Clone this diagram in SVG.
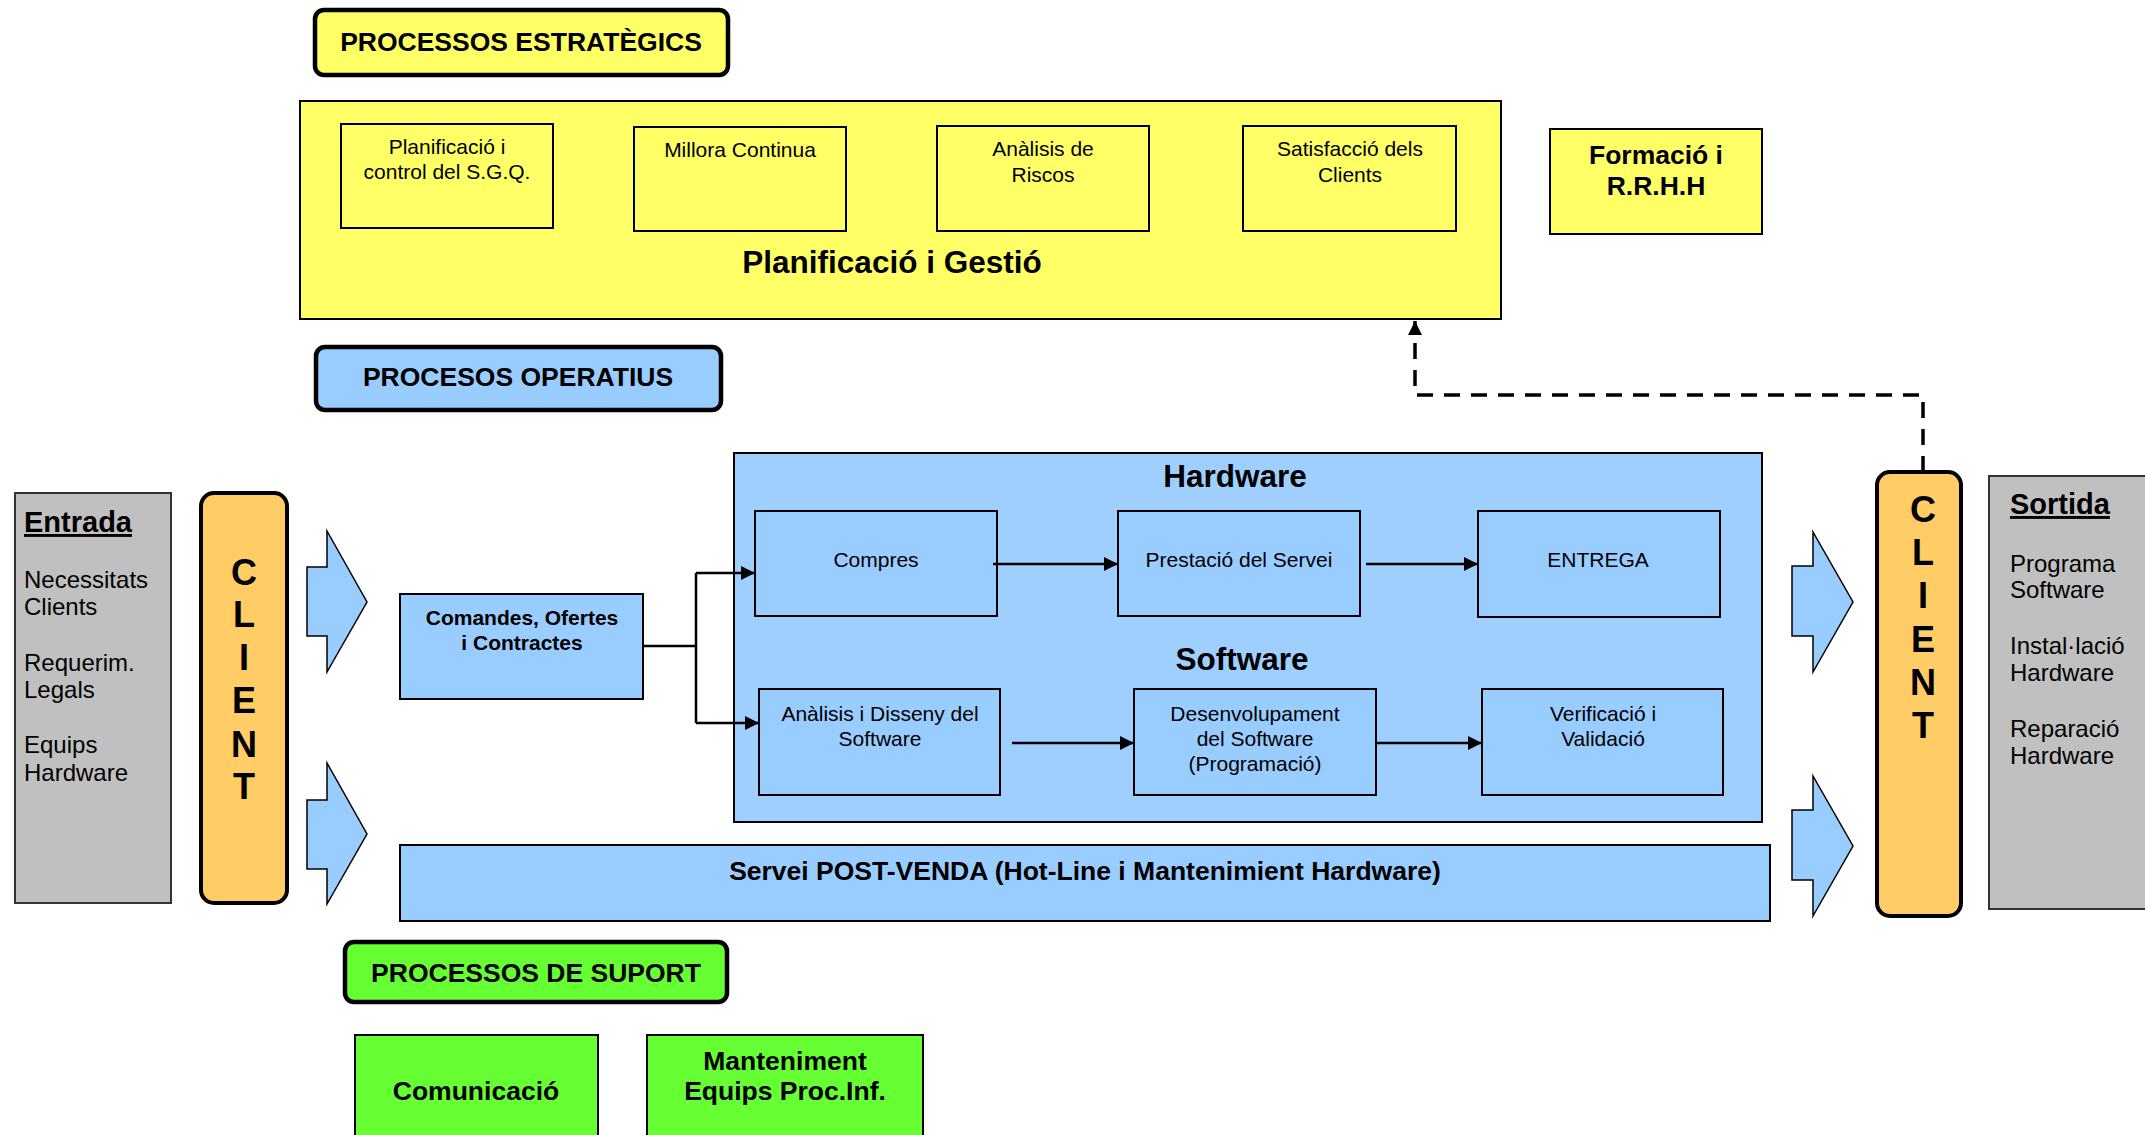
<svg xmlns="http://www.w3.org/2000/svg" width="2145" height="1135" viewBox="0 0 2145 1135">
<style>
text{font-family:"Liberation Sans",Arial,sans-serif;fill:#000}
.hdr{font-weight:bold;font-size:26.5px;text-anchor:middle}
.b{font-weight:bold;text-anchor:middle}
.t{font-size:21px;text-anchor:middle}
.side{font-size:24px}
.ttl{font-weight:bold;font-size:29px;text-decoration:underline}
.cl{font-weight:bold;font-size:36px;text-anchor:middle}
.yel{fill:#FFFF66;stroke:#000;stroke-width:2}
.blu{fill:#99CCFF;stroke:#000;stroke-width:2}
.grn{fill:#66FF33;stroke:#000;stroke-width:2}
.gry{fill:#C0C0C0;stroke:#333;stroke-width:2}
.org{fill:#FFCC66;stroke:#000;stroke-width:4}
.thick{stroke-width:4.5}
.blk{fill:#99CCFF;stroke:#000;stroke-width:1.5}
.ln{fill:none;stroke:#000;stroke-width:2.5}
.dash{fill:none;stroke:#000;stroke-width:3.5;stroke-dasharray:16 11}
</style>
<defs>
<marker id="ah" viewBox="0 0 10 10" refX="10" refY="5" markerWidth="14" markerHeight="15" markerUnits="userSpaceOnUse" orient="auto">
<path d="M0,0 L10,5 L0,10 z" fill="#000"/>
</marker>
<marker id="ahd" viewBox="0 0 10 10" refX="10" refY="5" markerWidth="14" markerHeight="14" markerUnits="userSpaceOnUse" orient="auto">
<path d="M0,0 L10,5 L0,10 z" fill="#000"/>
</marker>
</defs>

<g id="hdr-estrategics">
<rect class="yel thick" x="315" y="10" width="413" height="65" rx="9"/>
<text class="hdr" x="521" y="51">PROCESSOS ESTRATÈGICS</text>
</g>

<g id="planificacio-gestio">
<rect class="yel" x="300" y="101" width="1201" height="218"/>
<text class="b" x="892" y="273" font-size="31.5">Planificació i Gestió</text>
</g>
<g id="planificacio-control">
<rect class="yel" x="341" y="124" width="212" height="104"/>
<text class="t" x="447" y="154">Planificació i</text>
<text class="t" x="447" y="179">control del S.G.Q.</text>
</g>
<g id="millora">
<rect class="yel" x="634" y="127" width="212" height="104"/>
<text class="t" x="740" y="157">Millora Continua</text>
</g>
<g id="riscos">
<rect class="yel" x="937" y="126" width="212" height="105"/>
<text class="t" x="1043" y="156">Anàlisis de</text>
<text class="t" x="1043" y="182">Riscos</text>
</g>
<g id="satisfaccio">
<rect class="yel" x="1243" y="126" width="213" height="105"/>
<text class="t" x="1350" y="156">Satisfacció dels</text>
<text class="t" x="1350" y="182">Clients</text>
</g>
<g id="formacio">
<rect class="yel" x="1550" y="129" width="212" height="105"/>
<text class="b" x="1656" y="164" font-size="26.5">Formació i</text>
<text class="b" x="1656" y="195" font-size="26.5">R.R.H.H</text>
</g>

<g id="hdr-operatius">
<rect class="blu thick" x="316" y="347" width="405" height="63" rx="9"/>
<text class="hdr" x="518" y="386">PROCESOS OPERATIUS</text>
</g>

<g id="entrada">
<rect class="gry" x="15" y="493" width="156" height="410"/>
<text class="ttl" x="24" y="532">Entrada</text>
<text class="side" x="24" y="588">Necessitats</text>
<text class="side" x="24" y="615">Clients</text>
<text class="side" x="24" y="671">Requerim.</text>
<text class="side" x="24" y="698">Legals</text>
<text class="side" x="24" y="753">Equips</text>
<text class="side" x="24" y="781">Hardware</text>
</g>

<g id="client-left">
<rect class="org" x="201" y="493" width="86" height="410" rx="13"/>
<text class="cl" x="244" y="585">C</text>
<text class="cl" x="244" y="627">L</text>
<text class="cl" x="244" y="670">I</text>
<text class="cl" x="244" y="713">E</text>
<text class="cl" x="244" y="757">N</text>
<text class="cl" x="244" y="799">T</text>
</g>

<g id="arrow-in-1"><polygon class="blk" points="307,567 327,567 327,531 367,602 327,672 327,636 307,636"/></g>
<g id="arrow-in-2"><polygon class="blk" points="307,800 327,800 327,763 367,834 327,904 327,869 307,869"/></g>

<g id="comandes">
<rect class="blu" x="400" y="594" width="243" height="105"/>
<text class="b" x="522" y="625" font-size="21">Comandes, Ofertes</text>
<text class="b" x="522" y="650" font-size="21">i Contractes</text>
</g>

<g id="operatius-container">
<rect class="blu" x="734" y="453" width="1028" height="369" style="fill:#9FCFFF"/>
<text class="b" x="1235" y="487" font-size="31.5">Hardware</text>
<text class="b" x="1242" y="670" font-size="31.5">Software</text>
</g>
<g id="compres">
<rect class="blu" x="755" y="511" width="242" height="105"/>
<text class="t" x="876" y="567">Compres</text>
</g>
<g id="prestacio">
<rect class="blu" x="1118" y="511" width="242" height="105"/>
<text class="t" x="1239" y="567">Prestació del Servei</text>
</g>
<g id="entrega">
<rect class="blu" x="1478" y="511" width="242" height="106"/>
<text class="t" x="1598" y="567">ENTREGA</text>
</g>
<g id="analisis">
<rect class="blu" x="759" y="689" width="241" height="106"/>
<text class="t" x="880" y="721">Anàlisis i Disseny del</text>
<text class="t" x="880" y="746">Software</text>
</g>
<g id="desenvolupament">
<rect class="blu" x="1134" y="689" width="242" height="106"/>
<text class="t" x="1255" y="721">Desenvolupament</text>
<text class="t" x="1255" y="746">del Software</text>
<text class="t" x="1255" y="771">(Programació)</text>
</g>
<g id="verificacio">
<rect class="blu" x="1482" y="689" width="241" height="106"/>
<text class="t" x="1603" y="721">Verificació i</text>
<text class="t" x="1603" y="746">Validació</text>
</g>

<g id="postvenda">
<rect class="blu" x="400" y="845" width="1370" height="76"/>
<text class="b" x="1085" y="880" font-size="26.5">Servei POST-VENDA (Hot-Line i Mantenimient Hardware)</text>
</g>

<g id="arrow-out-1"><polygon class="blk" points="1792,566 1813,566 1813,532 1853,602 1813,672 1813,636 1792,636"/></g>
<g id="arrow-out-2"><polygon class="blk" points="1792,810 1813,810 1813,776 1853,846 1813,916 1813,880 1792,880"/></g>

<g id="client-right">
<rect class="org" x="1877" y="472" width="84" height="444" rx="13"/>
<text class="cl" x="1923" y="522">C</text>
<text class="cl" x="1923" y="565">L</text>
<text class="cl" x="1923" y="608">I</text>
<text class="cl" x="1923" y="652">E</text>
<text class="cl" x="1923" y="695">N</text>
<text class="cl" x="1923" y="738">T</text>
</g>

<g id="sortida">
<rect class="gry" x="1989" y="476" width="170" height="433"/>
<text class="ttl" x="2010" y="514">Sortida</text>
<text class="side" x="2010" y="572">Programa</text>
<text class="side" x="2010" y="598">Software</text>
<text class="side" x="2010" y="654">Instal·lació</text>
<text class="side" x="2010" y="681">Hardware</text>
<text class="side" x="2010" y="737">Reparació</text>
<text class="side" x="2010" y="764">Hardware</text>
</g>

<g id="hdr-suport">
<rect class="grn thick" x="345" y="942" width="382" height="60" rx="9"/>
<text class="hdr" x="536" y="982">PROCESSOS DE SUPORT</text>
</g>
<g id="comunicacio">
<rect class="grn" x="355" y="1035" width="243" height="110"/>
<text class="b" x="476" y="1100" font-size="26.5">Comunicació</text>
</g>
<g id="manteniment">
<rect class="grn" x="647" y="1035" width="276" height="110"/>
<text class="b" x="785" y="1070" font-size="26.5">Manteniment</text>
<text class="b" x="785" y="1100" font-size="26.5">Equips Proc.Inf.</text>
</g>

<g id="connectors">
<path class="ln" d="M643,646 H696 M696,573 V723"/>
<path class="ln" d="M696,573 H755" marker-end="url(#ah)"/>
<path class="ln" d="M696,723 H759" marker-end="url(#ah)"/>
<path class="ln" d="M993,564 H1118" marker-end="url(#ah)"/>
<path class="ln" d="M1366,564 H1478" marker-end="url(#ah)"/>
<path class="ln" d="M1012,743 H1134" marker-end="url(#ah)"/>
<path class="ln" d="M1376,743 H1482" marker-end="url(#ah)"/>
<path class="dash" d="M1923,472 V395 H1415 V321" marker-end="url(#ahd)"/>
</g>
</svg>
